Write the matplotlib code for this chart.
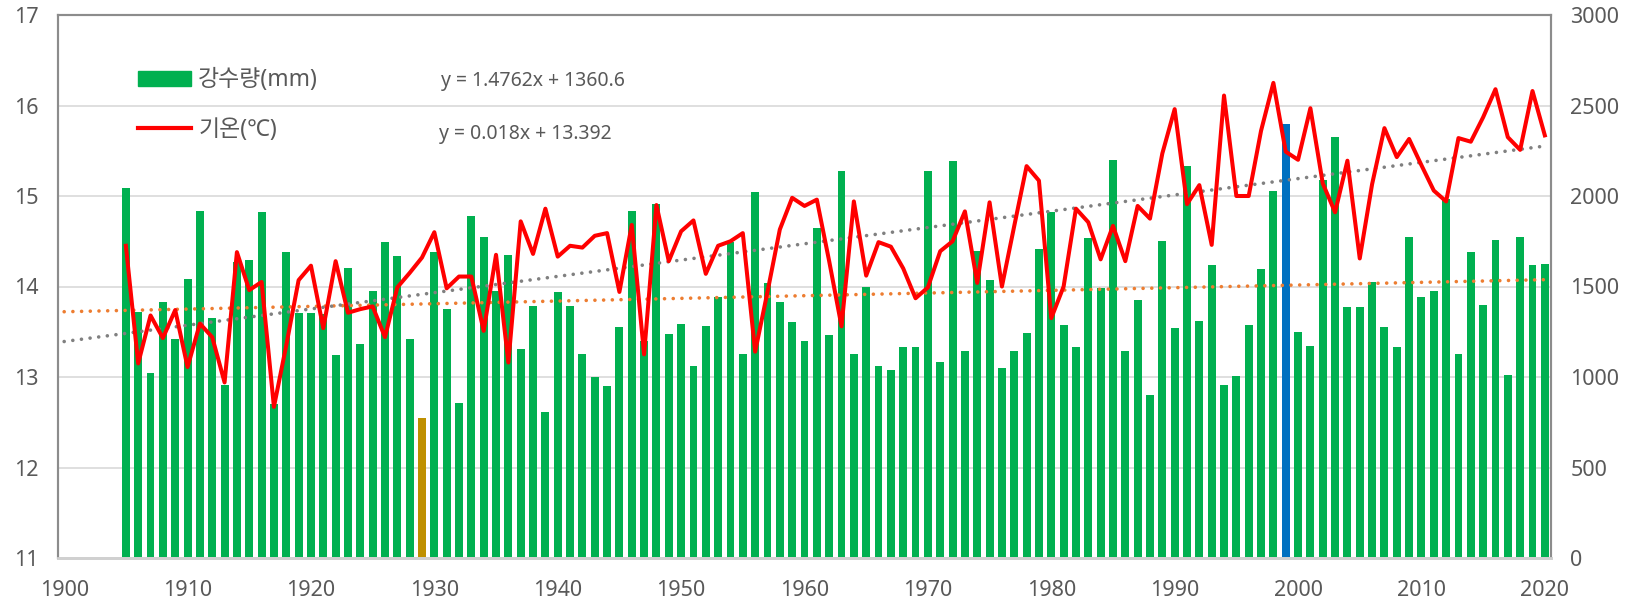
import numpy as np
import matplotlib.pyplot as plt
from matplotlib.patches import Patch
from matplotlib.lines import Line2D

plt.rcParams['font.family'] = ['Noto Sans', 'Noto Sans CJK KR', 'DejaVu Sans']

years = list(range(1905, 2021))

rain = [2045, 1360, 1021, 1413, 1210, 1541, 1918, 1324, 954, 1636,
        1649, 1911, 850, 1693, 1356, 1356, 1346, 1123, 1600, 1180,
        1477, 1744, 1670, 1208, 771, 1693, 1377, 856, 1890, 1774,
        1473, 1676, 1157, 1392, 807, 1468, 1392, 1127, 1000, 949,
        1278, 1918, 1200, 1958, 1235, 1293, 1062, 1284, 1441, 1748,
        1129, 2024, 1521, 1413, 1305, 1199, 1822, 1233, 2140, 1129,
        1498, 1062, 1036, 1163, 1163, 2140, 1085, 2195, 1144, 1695,
        1536, 1049, 1144, 1242, 1706, 1913, 1288, 1168, 1769, 1492,
        2200, 1144, 1424, 901, 1750, 1269, 2168, 1310, 1617, 958,
        1007, 1288, 1598, 2030, 2399, 1248, 1172, 2087, 2327, 1386,
        1384, 1526, 1276, 1165, 1771, 1441, 1477, 1983, 1129, 1693,
        1396, 1759, 1013, 1776, 1621, 1627]

temp = [14.45, 13.15, 13.68, 13.43, 13.74, 13.11, 13.59, 13.44, 12.94, 14.38,
        13.96, 14.05, 12.67, 13.35, 14.07, 14.23, 13.54, 14.28, 13.71, 13.75,
        13.78, 13.44, 13.99, 14.15, 14.32, 14.60, 13.98, 14.11, 14.11, 13.51,
        14.35, 13.16, 14.72, 14.36, 14.86, 14.33, 14.45, 14.43, 14.56, 14.59,
        13.94, 14.68, 13.25, 14.90, 14.28, 14.61, 14.73, 14.14, 14.45, 14.50,
        14.59, 13.28, 13.94, 14.63, 14.98, 14.89, 14.96, 14.28, 13.56, 14.94,
        14.12, 14.49, 14.44, 14.20, 13.87, 13.99, 14.39, 14.50, 14.83, 14.04,
        14.93, 14.00, 14.67, 15.33, 15.17, 13.65, 14.00, 14.86, 14.71, 14.30,
        14.67, 14.28, 14.89, 14.75, 15.47, 15.96, 14.91, 15.12, 14.46, 16.11,
        15.00, 15.00, 15.72, 16.25, 15.49, 15.40, 15.97, 15.14, 14.82, 15.39,
        14.31, 15.13, 15.75, 15.43, 15.63, 15.34, 15.06, 14.94, 15.64, 15.60,
        15.87, 16.18, 15.65, 15.51, 16.16, 15.67]

# trendline equations as printed on the chart (x = year - 1900)
rain_slope, rain_icpt = 1.4762, 1360.6
temp_slope, temp_icpt = 0.018, 13.392
min_year, max_year = 1929, 1999

green = '#00B050'
colors = []
for y in years:
    if y == min_year:
        colors.append('#BF9000')
    elif y == max_year:
        colors.append('#0070C0')
    else:
        colors.append(green)

fig = plt.figure(figsize=(16.35, 6.02), dpi=100)
ax = fig.add_axes([58/1635, 1 - 558/602, 1493/1635, 543/602])
ax2 = ax.twinx()

# precipitation on right axis
ax.bar(years, rain, width=0.64, color=colors, zorder=2)
tx = np.array([1900, 2020])
ax.plot(tx, rain_slope * (tx - 1900) + rain_icpt, color='#ED7D31', lw=2.6,
        linestyle=(0, (0.01, 2.4)), dash_capstyle='round', zorder=3)
ax.set_ylim(0, 3000)
ax.set_yticks(range(0, 3001, 500))
ax.grid(axis='y', color='#D9D9D9', lw=1.2, zorder=0)
ax.set_axisbelow(True)
ax.yaxis.tick_right()

# temperature on left axis
ax2.plot(tx, temp_slope * (tx - 1900) + temp_icpt, color='#808080', lw=2.6,
         linestyle=(0, (0.01, 2.4)), dash_capstyle='round', zorder=3)
ax2.plot(years, temp, color='#FF0000', lw=2.9, zorder=4)
ax2.set_ylim(11, 17)
ax2.set_yticks(range(11, 18))
ax2.yaxis.tick_left()

ax.set_xlim(1899.5, 2020.5)
ax.set_xticks(range(1900, 2021, 10))

for a in (ax, ax2):
    a.tick_params(length=0, labelsize=15.5, labelcolor='#595959')
    for s in ('top', 'left', 'right'):
        a.spines[s].set_color('#8C8C8C')
        a.spines[s].set_linewidth(1.5)
    a.spines['bottom'].set_color('#D0D0D0')
    a.spines['bottom'].set_linewidth(2)
ax.tick_params(axis='y', pad=14)
ax2.tick_params(axis='y', pad=14)
ax.tick_params(axis='x', pad=16)

handles = [Patch(color=green), Line2D([], [], color='#FF0000', lw=3)]
ax2.legend(handles, ['강수량(mm)', '기온(℃)'], loc='center left',
           bbox_to_anchor=(0.0536, 0.834), frameon=False, fontsize=16.5,
           handlelength=2.3, handleheight=0.6, handletextpad=0.33,
           labelspacing=1.12, borderpad=0, borderaxespad=0, labelcolor='#595959')

ax2.text(0.2565, 0.879, 'y = 1.4762x + 1360.6', transform=ax2.transAxes,
         fontsize=14, color='#595959', va='center', ha='left')
ax2.text(0.2551, 0.781, 'y = 0.018x + 13.392', transform=ax2.transAxes,
         fontsize=14, color='#595959', va='center', ha='left')

fig.savefig('out.png', dpi=100)
